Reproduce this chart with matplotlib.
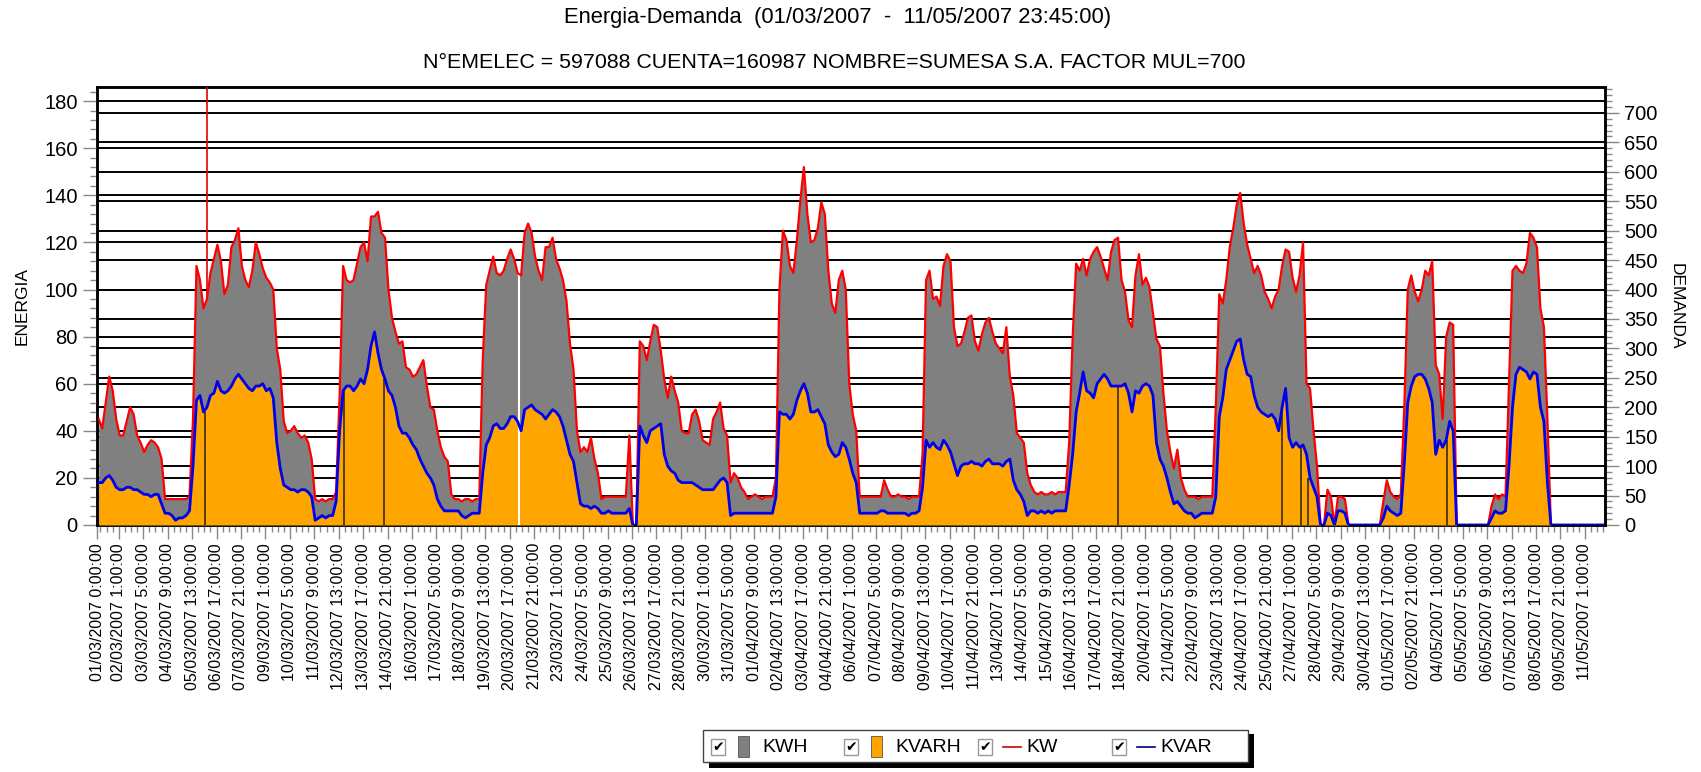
import numpy as np
import matplotlib
matplotlib.use('Agg')
import matplotlib.pyplot as plt
from matplotlib.patches import Rectangle
from matplotlib.lines import Line2D
from matplotlib.ticker import MultipleLocator, FixedLocator
from datetime import datetime, timedelta

plt.rcParams['font.family'] = ['Liberation Sans', 'DejaVu Sans']

kwh_rows = [
    [45, 41, 52, 63, 57, 45], [38, 38, 44, 50, 47, 38], [35, 31, 34, 36, 35, 33],
    [28, 11, 11, 11, 11, 11], [11, 11, 12, 45, 110, 104], [92, 96, 107, 113, 119, 112],
    [98, 102, 118, 121, 126, 110], [104, 101, 108, 120, 115, 109], [105, 103, 100, 75, 66, 44],
    [39, 40, 42, 39, 37, 38], [35, 28, 11, 10, 11, 10], [11, 11, 14, 55, 110, 104],
    [103, 104, 111, 118, 120, 112], [131, 131, 133, 124, 122, 100], [88, 82, 77, 78, 67, 66],
    [63, 64, 67, 70, 59, 50], [49, 40, 33, 29, 27, 13], [11, 11, 10, 11, 11, 10],
    [11, 11, 70, 102, 108, 114], [107, 106, 108, 113, 117, 113], [107, 106, 124, 128, 124, 114],
    [108, 104, 118, 118, 122, 113], [109, 104, 95, 77, 66, 40], [31, 33, 31, 37, 28, 22],
    [11, 12, 12, 12, 12, 12], [12, 12, 38, 0, 0, 78], [76, 70, 78, 85, 84, 74],
    [62, 54, 63, 57, 52, 40], [39, 39, 47, 49, 44, 36], [35, 34, 45, 48, 52, 41],
    [38, 18, 22, 20, 16, 14], [11, 12, 13, 12, 11, 12], [12, 12, 20, 100, 125, 121],
    [110, 107, 121, 138, 152, 132], [120, 121, 126, 137, 132, 108], [94, 90, 104, 108, 100, 60],
    [47, 40, 12, 12, 12, 12], [12, 12, 12, 19, 15, 12], [12, 13, 12, 12, 11, 12],
    [12, 12, 30, 104, 108, 96], [97, 93, 110, 115, 112, 84], [76, 77, 82, 88, 89, 78],
    [74, 81, 86, 88, 82, 77], [75, 73, 84, 63, 55, 39], [37, 35, 22, 17, 14, 13],
    [14, 13, 13, 14, 13, 14], [14, 14, 35, 80, 111, 108], [113, 106, 113, 116, 118, 114],
    [109, 104, 116, 121, 122, 104], [99, 87, 84, 106, 115, 102], [105, 101, 90, 79, 76, 56],
    [40, 31, 24, 32, 20, 15], [12, 12, 12, 11, 12, 12], [12, 12, 50, 98, 94, 104],
    [118, 126, 136, 141, 128, 119], [113, 107, 110, 106, 99, 96], [92, 97, 100, 110, 117, 116],
    [105, 99, 106, 120, 60, 58], [40, 25, 0, 0, 15, 12], [0, 12, 12, 11, 0, 0],
    [0, 0, 0, 0, 0, 0], [0, 0, 10, 19, 14, 12], [11, 13, 50, 100, 106, 99],
    [95, 100, 108, 106, 112, 68], [64, 45, 80, 86, 85, 0], [0, 0, 0, 0, 0, 0],
    [0, 0, 0, 8, 13, 11], [13, 12, 60, 108, 110, 108], [107, 111, 124, 122, 118, 92],
    [84, 45, 0, 0, 0, 0], [0, 0, 0, 0, 0, 0], [0, 0, 0, 0, 0, 0],
]
kvarh_rows = [
    [18, 18, 20, 21, 19, 16], [15, 15, 16, 16, 15, 15], [14, 13, 13, 12, 13, 13],
    [9, 5, 5, 4, 2, 3], [3, 4, 6, 25, 53, 55], [48, 50, 55, 56, 61, 57],
    [56, 57, 59, 62, 64, 62], [60, 58, 57, 59, 59, 60], [57, 58, 54, 35, 24, 17],
    [16, 15, 15, 14, 15, 15], [14, 12, 2, 3, 4, 3], [4, 4, 10, 40, 57, 59],
    [59, 57, 59, 62, 60, 66], [76, 82, 73, 66, 62, 57], [55, 50, 42, 39, 39, 37],
    [34, 32, 28, 25, 22, 20], [17, 11, 8, 6, 6, 6], [6, 6, 4, 3, 4, 5],
    [5, 5, 22, 34, 37, 42], [43, 41, 41, 43, 46, 46], [44, 40, 49, 50, 51, 49],
    [48, 47, 45, 47, 49, 48], [46, 42, 36, 30, 27, 18], [9, 8, 8, 7, 8, 7],
    [5, 5, 6, 5, 5, 5], [5, 5, 7, 0, 0, 42], [38, 35, 40, 41, 42, 43],
    [30, 25, 23, 22, 19, 18], [18, 18, 18, 17, 16, 15], [15, 15, 15, 17, 19, 20],
    [18, 4, 5, 5, 5, 5], [5, 5, 5, 5, 5, 5], [5, 5, 12, 48, 47, 47],
    [45, 47, 53, 57, 60, 56], [48, 48, 49, 46, 43, 34], [31, 29, 30, 35, 33, 28],
    [22, 18, 5, 5, 5, 5], [5, 5, 6, 6, 5, 5], [5, 5, 5, 5, 4, 5],
    [5, 6, 16, 36, 33, 35], [33, 32, 36, 34, 31, 26], [21, 25, 26, 26, 27, 26],
    [26, 25, 27, 28, 26, 26], [26, 25, 27, 28, 19, 15], [13, 10, 4, 6, 6, 5],
    [6, 5, 6, 5, 6, 6], [6, 6, 17, 30, 48, 56], [65, 57, 56, 54, 60, 62],
    [64, 62, 59, 59, 59, 59], [60, 56, 48, 57, 56, 59], [60, 59, 55, 35, 28, 25],
    [20, 14, 9, 10, 8, 6], [5, 5, 3, 4, 5, 5], [5, 5, 12, 46, 54, 66],
    [70, 74, 78, 79, 70, 64], [63, 55, 50, 48, 47, 46], [47, 45, 40, 50, 58, 37],
    [33, 35, 33, 34, 30, 20], [16, 12, 0, 0, 5, 4], [0, 6, 6, 5, 0, 0],
    [0, 0, 0, 0, 0, 0], [0, 0, 3, 8, 6, 5], [4, 5, 26, 52, 59, 63],
    [64, 64, 62, 58, 52, 30], [36, 33, 36, 44, 40, 0], [0, 0, 0, 0, 0, 0],
    [0, 0, 0, 3, 6, 5], [5, 6, 25, 50, 64, 67], [66, 65, 62, 65, 64, 50],
    [44, 18, 0, 0, 0, 0], [0, 0, 0, 0, 0, 0], [0, 0, 0, 0, 0, 0],
]

# single readings where KVARH fell to zero (hours from 01/03 0:00)
kvarh_drop_hours = [123.8, 283.4, 329.3, 1170.4, 1357.5, 1379.4, 1388.1, 1546.6]
# one reading with no data at all
gap_hours = [483.6]
# KW spike far above the scale on 05/03
kw_spike_hours = [125.5]
kw_spike_values = [1500]

kwh = np.array(kwh_rows, dtype=float).ravel()
kvarh = np.array(kvarh_rows, dtype=float).ravel()
hours = np.arange(len(kwh)) * 4 + 2
# demand over a 15 minute interval = energy * 4
kw = kwh * 4
kvar = kvarh * 4

start = datetime(2007, 3, 1)
tick_times = [start] + [start + timedelta(hours=25 + 28 * i) for i in range(61)]
tick_hours = [(t - start).total_seconds() / 3600 for t in tick_times]
tick_labels = [f"{t:%d/%m/%Y} {t.hour}:{t:%M:%S}" for t in tick_times]

W, H = 1701, 772
fig = plt.figure(figsize=(W / 100, H / 100), dpi=100)
ax = fig.add_axes([97 / W, 1 - 525 / H, 1508 / W, 438 / H])
ax2 = ax.twinx()
ax.set_zorder(2)
ax2.set_zorder(1)
ax.patch.set_visible(False)

ax.fill_between(hours, kwh, color='#808080', lw=0, zorder=2)
ax.fill_between(hours, kvarh, color='#ffa500', lw=0, zorder=3)
ax.vlines(kvarh_drop_hours, 0, [kvarh[int(h // 4)] for h in kvarh_drop_hours],
          color='#3a2a10', lw=1.2, zorder=3.5)
ax.vlines(gap_hours, 0, [kwh[int(h // 4)] for h in gap_hours], color='white', lw=1.5, zorder=3.5)
ax.vlines(kw_spike_hours, [kw[int(h // 4)] for h in kw_spike_hours], kw_spike_values,
          color='#e00000', lw=1.2, transform=ax2.transData, zorder=4)
ax.plot(hours, kw, color='#ff0000', lw=1.6, transform=ax2.transData, zorder=4)
ax.plot(hours, kvar, color='#0000ee', lw=2.0, transform=ax2.transData, zorder=5)

ax.set_xlim(0, 1728)
ax.set_ylim(0, 186)
ax2.set_ylim(0, 744)

ax.yaxis.set_major_locator(MultipleLocator(20))
ax.yaxis.set_minor_locator(MultipleLocator(4))
ax2.yaxis.set_major_locator(MultipleLocator(50))
ax2.yaxis.set_minor_locator(MultipleLocator(10))
ax.xaxis.set_major_locator(FixedLocator(tick_hours))
ax.xaxis.set_minor_locator(FixedLocator(np.arange(4, 1729, 7)))
ax.set_xticklabels(tick_labels, rotation=90, va='top', ha='center')

ax.grid(axis='y', color='black', lw=1.4)
ax.set_axisbelow(True)
ax2.grid(axis='y', color='black', lw=1.4)

ax.tick_params(axis='y', which='major', length=10, width=1, color='#888888', labelsize=14.5, pad=4)
ax.tick_params(axis='y', which='minor', length=5, width=1, color='#888888')
ax.tick_params(axis='x', which='major', length=10, width=1, color='#888888', labelsize=11.5, pad=3)
ax.tick_params(axis='x', which='minor', length=5, width=1, color='#888888')
ax2.tick_params(axis='y', which='major', length=10, width=1, color='#888888', labelsize=14.5, pad=4)
ax2.tick_params(axis='y', which='minor', length=5, width=1, color='#888888')

for a in (ax, ax2):
    for sp in a.spines.values():
        sp.set_linewidth(1.8)

ax.set_ylabel('ENERGIA', fontsize=12.5)
ax.yaxis.set_label_coords(-0.045, 0.5)
ax2.set_ylabel('DEMANDA', fontsize=12.5, rotation=270, va='center')
ax2.yaxis.set_label_coords(1.047, 0.5)

fig.text(838 / W, 1 - 18 / H, 'Energia-Demanda  (01/03/2007  -  11/05/2007 23:45:00)',
         ha='center', va='center', fontsize=15.8)
fig.text(834 / W, 1 - 63 / H, 'N°EMELEC = 597088 CUENTA=160987 NOMBRE=SUMESA S.A. FACTOR MUL=700',
         ha='center', va='center', fontsize=15.4)


# legend box drawn by hand, in pixel positions of the figure
def fx(x):
    return x / W


def fy(y):
    return 1 - y / H


fig.add_artist(Rectangle((fx(709), fy(768)), 545 / W, 34 / H, facecolor='black', edgecolor='none'))
fig.add_artist(Rectangle((fx(703), fy(762)), 545 / W, 32 / H, facecolor='white', edgecolor='#444444', lw=1))

legend_items = [
    (711, 'patch', '#808080', 'KWH'),
    (844, 'patch', '#ffa500', 'KVARH'),
    (978, 'line', '#cc0000', 'KW'),
    (1112, 'line', '#000080', 'KVAR'),
]
for x0, kind, color, label in legend_items:
    fig.add_artist(Rectangle((fx(x0), fy(755)), 14 / W, 16 / H, facecolor='white', edgecolor='#999999', lw=1))
    fig.text(fx(x0 + 7), fy(747), '✔', ha='center', va='center', fontsize=10, family='DejaVu Sans')
    if kind == 'patch':
        fig.add_artist(Rectangle((fx(x0 + 27), fy(757)), 11 / W, 21 / H, facecolor=color, edgecolor='#555555', lw=0.6))
        tx = x0 + 51
    else:
        fig.add_artist(Line2D([fx(x0 + 25), fx(x0 + 43)], [fy(747), fy(747)], color=color, lw=1.2))
        tx = x0 + 48
    fig.text(fx(tx), fy(747), label, ha='left', va='center', fontsize=14)

fig.savefig('out.png', dpi=100)
